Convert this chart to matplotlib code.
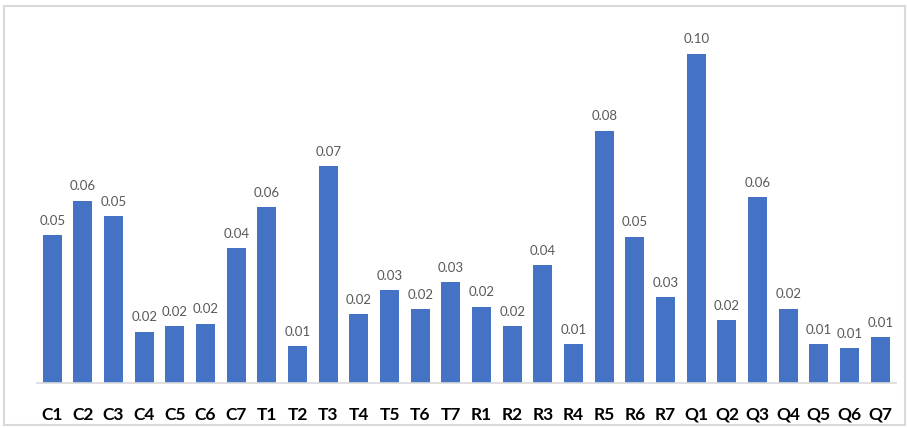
import matplotlib
matplotlib.use("Agg")
import matplotlib.pyplot as plt
from matplotlib.patches import Rectangle

categories = ["C1", "C2", "C3", "C4", "C5", "C6", "C7",
              "T1", "T2", "T3", "T4", "T5", "T6", "T7",
              "R1", "R2", "R3", "R4", "R5", "R6", "R7",
              "Q1", "Q2", "Q3", "Q4", "Q5", "Q6", "Q7"]
values = [0.0468, 0.0577, 0.0528, 0.0163, 0.0181, 0.0188, 0.0427,
          0.0556, 0.0117, 0.0687, 0.0218, 0.0295, 0.0235, 0.0319,
          0.0242, 0.0181, 0.0373, 0.0123, 0.0798, 0.0463, 0.0272,
          0.1042, 0.0200, 0.0588, 0.0236, 0.0124, 0.0111, 0.0145]

W, H = 907, 428
fig = plt.figure(figsize=(W / 100, H / 100), dpi=100)
fig.patch.set_facecolor("white")

# chart frame
fig.patches.append(Rectangle((4 / W, 3 / H), 901 / W, 419 / H,
                             transform=fig.transFigure, fill=False,
                             edgecolor="#d9d9d9", linewidth=1.5))

left, right = 36.9, 895.6
bottom_px = 383.3
ymax = 0.12
height_px = ymax * 3165
ax = fig.add_axes([left / W, (H - bottom_px) / H,
                   (right - left) / W, height_px / H])

x = list(range(len(categories)))
ax.bar(x, values, width=0.62, color="#4472C4", zorder=2)

for xi, v in zip(x, values):
    ax.annotate(f"{v:.2f}", (xi, v), xytext=(0, 6), textcoords="offset points",
                ha="center", va="bottom", fontsize=9.5, color="#595959",
                family=["Lato", "DejaVu Sans"])

ax.set_xlim(-0.5, len(categories) - 0.5)
ax.set_ylim(0, ymax)
ax.set_xticks(x)
ax.set_xticklabels(categories, fontsize=12.5, fontweight="bold",
                   family=["Lato", "DejaVu Sans"], color="black")
ax.tick_params(axis="x", length=0, pad=17)
ax.set_yticks([])
for s in ["top", "right", "left"]:
    ax.spines[s].set_visible(False)
ax.spines["bottom"].set_color("#d9d9d9")
ax.spines["bottom"].set_linewidth(1.2)
ax.patch.set_alpha(0)

fig.savefig("out.png", dpi=100, facecolor="white")
